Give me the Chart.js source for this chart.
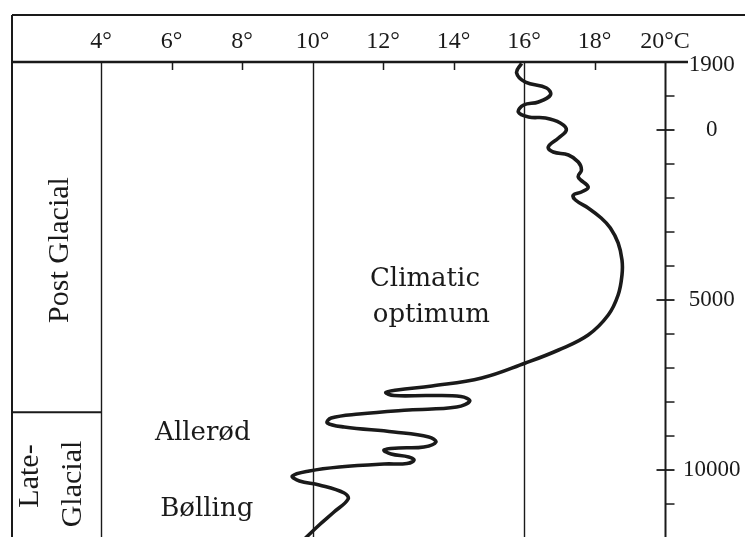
<!DOCTYPE html>
<html>
<head>
<meta charset="utf-8">
<script src="https://cdn.jsdelivr.net/npm/chart.js@4.4.1/dist/chart.umd.min.js"></script>
<style>
  html, body { margin: 0; padding: 0; background: #fff; }
  canvas { display: block; }
</style>
</head>
<body>
<canvas id="temp-chart" width="745" height="537"></canvas>
<script>
// top axis (°C) and right axis (years BC, 1900 = AD 1900)
const tempTicks = [4, 6, 8, 10, 12, 14, 16, 18, 20];
const tempTickLabels = ['4°', '6°', '8°', '10°', '12°', '14°', '16°', '18°', '20°C'];
const fullLineTemps = [4, 10, 16, 20];
const yearTicks = [-1900, 0, 5000, 10000];
const yearTickLabels = ['1900', '0', '5000', '10000'];
const minorYears = [-1000, 1000, 2000, 3000, 4000, 6000, 7000, 8000, 9000, 11000];
const glacialBoundary = 8300;

// curve (temperature, year)
const temps = [15.93, 15.79, 16.04, 16.64, 16.75, 16.41, 15.99, 15.84, 16.13, 16.61, 17.03, 17.20, 16.98, 16.69,
  16.83, 17.26, 17.54, 17.63, 17.54, 17.82, 17.63, 17.40, 17.46, 17.82, 18.19, 18.45, 18.67, 18.78, 18.78, 18.67,
  18.39, 17.82, 16.98, 16.04, 14.80, 13.39, 12.40, 12.08, 12.31, 13.30, 14.21, 14.46, 14.09, 12.73, 11.32, 10.53,
  10.42, 10.90, 12.31, 13.30, 13.50, 13.16, 12.45, 12.03, 12.23, 12.73, 12.88, 12.68, 12.03, 10.76, 9.91, 9.43,
  9.63, 10.19, 10.90, 11.01, 10.61, 10.19, 9.80];
const years = [-1960, -1680, -1410, -1235, -1029, -824, -735, -529, -382, -353, -206, 0, 235, 500,
  647, 735, 941, 1176, 1382, 1676, 1823, 1912, 2059, 2294, 2588, 2882, 3323, 3823, 4264, 4853,
  5441, 6029, 6470, 6853, 7294, 7529, 7647, 7720, 7808, 7808, 7838, 7970, 8147, 8235, 8353, 8470,
  8617, 8735, 8882, 9029, 9176, 9323, 9353, 9411, 9529, 9617, 9705, 9808, 9823, 9911, 10029, 10176,
  10323, 10441, 10676, 10853, 11235, 11617, 12000];

// labels inside the plot
const noteLabels = ['Climatic', 'optimum', 'Allerød', 'Bølling'];
const noteTemps = [13.19, 13.37, 6.89, 7.0];
const noteYears = [4588, 5647, 9117, 11353];

const ink = '#1a1a1a';

const frame = {
  id: 'frame',
  beforeDatasetsDraw(chart) {
    const { ctx, chartArea: a, scales: { x, y } } = chart;
    ctx.save();
    ctx.strokeStyle = ink;
    ctx.lineCap = 'butt';
    const line = (x1, y1, x2, y2, w) => {
      ctx.lineWidth = w;
      ctx.beginPath(); ctx.moveTo(x1, y1); ctx.lineTo(x2, y2); ctx.stroke();
    };
    // outer box
    line(12, 15, 745, 15, 2);
    line(12, 15, 12, a.bottom, 2);
    line(12, a.top, a.right + 23, a.top, 2.5);
    // temperature lines and ticks
    tempTicks.forEach(t => {
      const px = Math.round(x.getPixelForValue(t)) + 0.5;
      if (fullLineTemps.includes(t)) line(px, a.top, px, a.bottom, t === 20 ? 2 : 1.4);
      else line(px, a.top, px, a.top + 8, 1.5);
    });
    // year ticks on the right axis
    const xr = Math.round(x.getPixelForValue(20)) + 0.5;
    minorYears.forEach(v => {
      const py = y.getPixelForValue(v);
      line(xr, py, xr + 9, py, 1.5);
    });
    yearTicks.slice(1).forEach(v => {
      const py = y.getPixelForValue(v);
      line(xr - 9, py, xr + 9, py, 1.8);
    });
    // left column divider
    const pb = y.getPixelForValue(glacialBoundary);
    line(12, pb, a.left, pb, 2);
    ctx.restore();
  },
  afterDraw(chart) {
    const { ctx, scales: { x, y } } = chart;
    ctx.save();
    ctx.fillStyle = ink;
    ctx.textAlign = 'center';
    ctx.textBaseline = 'alphabetic';
    ctx.font = '26px "DejaVu Serif"';
    noteLabels.forEach((s, i) => {
      ctx.fillText(s, x.getPixelForValue(noteTemps[i]), y.getPixelForValue(noteYears[i]));
    });
    const vtext = (s, bx, cy, size) => {
      ctx.save();
      ctx.translate(bx, cy);
      ctx.rotate(-Math.PI / 2);
      ctx.font = size + 'px "Liberation Serif"';
      ctx.fillText(s, 0, 0);
      ctx.restore();
    };
    vtext('Post Glacial', 68, 250, 30);
    vtext('Late-', 38, 476, 30);
    vtext('Glacial', 81, 484, 30);
    ctx.restore();
  }
};

new Chart(document.getElementById('temp-chart'), {
  type: 'scatter',
  data: {
    datasets: [{
      data: temps.map((t, i) => ({ x: t, y: years[i] })),
      showLine: true,
      borderColor: ink,
      borderWidth: 3.6,
      pointRadius: 0,
      tension: 0.4,
      fill: false
    }]
  },
  options: {
    responsive: false,
    animation: false,
    devicePixelRatio: 1,
    layout: { padding: { left: 101, top: 0, right: 0, bottom: 0 } },
    plugins: { legend: { display: false }, tooltip: { enabled: false } },
    scales: {
      x: {
        type: 'linear', position: 'top', min: 4, max: 20,
        afterBuildTicks: s => { s.ticks = tempTicks.map(v => ({ value: v })); },
        afterFit: s => { s.height = 62; },
        grid: { display: false, drawTicks: false },
        border: { display: false },
        ticks: {
          color: ink, padding: 6, maxRotation: 0, autoSkip: false,
          font: { family: '"Liberation Serif"', size: 24 },
          callback: v => tempTickLabels[tempTicks.indexOf(v)]
        }
      },
      y: {
        type: 'linear', position: 'right', reverse: true, min: -2000, max: 11970,
        afterBuildTicks: s => { s.ticks = yearTicks.map(v => ({ value: v })); },
        afterFit: s => { s.width = 80; s.paddingTop = 0; s.paddingBottom = 0; },
        grid: { display: false, drawTicks: false },
        border: { display: false },
        ticks: {
          color: ink, padding: 18, crossAlign: 'center', autoSkip: false,
          font: { family: '"Liberation Serif"', size: 23 },
          callback: v => yearTickLabels[yearTicks.indexOf(v)]
        }
      }
    }
  },
  plugins: [frame]
});
</script>
</body>
</html>
